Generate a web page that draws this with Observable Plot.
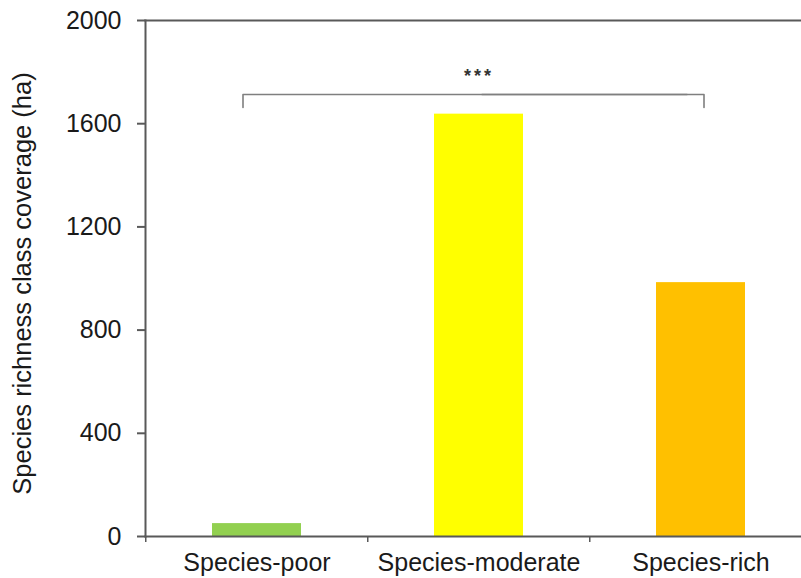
<!DOCTYPE html>
<html>
<head>
<meta charset="utf-8">
<script src="https://cdn.jsdelivr.net/npm/d3@7"></script>
<script src="https://cdn.jsdelivr.net/npm/@observablehq/plot@0.6"></script>
<style>
  html, body { margin: 0; padding: 0; background: #fff; }
  #chart svg { display: block; }
</style>
</head>
<body>
<div id="chart"></div>
<script>
const categories = ["Species-poor", "Species-moderate", "Species-rich"];
const coverage = [50, 1637, 984];
const barColors = ["#92D050", "#FFFF00", "#FFC000"];
const yTicks = [0, 400, 800, 1200, 1600, 2000];
const yTitle = "Species richness class coverage (ha)";
const sigLabel = "***";
const bracketFrom = "Species-poor";
const bracketTo = "Species-rich";
const bracketTop = 1713;
const bracketEnd = 1663;
const sigY = 1784;

const bars = categories.map((c, i) => ({category: c, value: coverage[i], color: barColors[i]}));
const leftPart = [
  {x: bracketFrom, y: bracketEnd},
  {x: bracketFrom, y: bracketTop},
  {x: bracketTo, y: bracketTop}
];
const rightPart = [
  {x: categories[1], y: bracketTop},
  {x: bracketTo, y: bracketTop},
  {x: bracketTo, y: bracketEnd}
];
const axisColor = "#595959";

const plot = Plot.plot({
  width: 801,
  height: 578,
  marginLeft: 145,
  marginRight: 0,
  marginTop: 20,
  marginBottom: 42,
  style: {fontFamily: "'Liberation Sans', Arial, sans-serif", fontSize: "25px", color: "#1a1a1a", background: "#fff"},
  x: {domain: categories, range: [145, 812.5], paddingInner: 0.6, paddingOuter: 0.3, axis: null},
  y: {domain: [0, 2000], axis: null},
  marks: [
    Plot.barY(bars, {x: "category", y: "value", fill: "color"}),
    Plot.frame({anchor: "top", stroke: axisColor, strokeWidth: 2, strokeOpacity: 1}),
    Plot.frame({anchor: "bottom", stroke: axisColor, strokeWidth: 2, strokeOpacity: 1}),
    Plot.frame({anchor: "left", stroke: axisColor, strokeWidth: 2, strokeOpacity: 1}),
    Plot.ruleX(categories, {x: d => d, y1: 0, y2: 0, insetBottom: -6, dx: -111.25, stroke: axisColor, strokeWidth: 1.5}),
    Plot.axisY({ticks: yTicks, tickSize: 8, tickPadding: 16, fontSize: 25, stroke: axisColor, strokeWidth: 2, tickFormat: d => String(d), label: null}),
    Plot.axisX({tickSize: 0, tickPadding: 17, fontSize: 25, label: null}),
    Plot.text([yTitle], {text: d => d, frameAnchor: "left", rotate: -90, textAnchor: "middle", lineAnchor: "top", dx: -133, dy: 5, fontSize: 25.5, fill: "#1a1a1a"}),
    Plot.line(leftPart, {x: "x", y: "y", dx: -14, stroke: "#7f7f7f", strokeWidth: 1.6}),
    Plot.line(rightPart, {x: "x", y: "y", dx: 3, stroke: "#7f7f7f", strokeWidth: 1.6}),
    Plot.text([sigLabel], {x: () => categories[1], y: () => sigY, text: d => d, fontSize: 18, fontWeight: "bold", fill: "#333"})
  ]
});
document.getElementById("chart").appendChild(plot);
d3.select(plot).selectAll("text").filter(function() { return this.textContent === sigLabel; }).attr("letter-spacing", "3px");
</script>
</body>
</html>
